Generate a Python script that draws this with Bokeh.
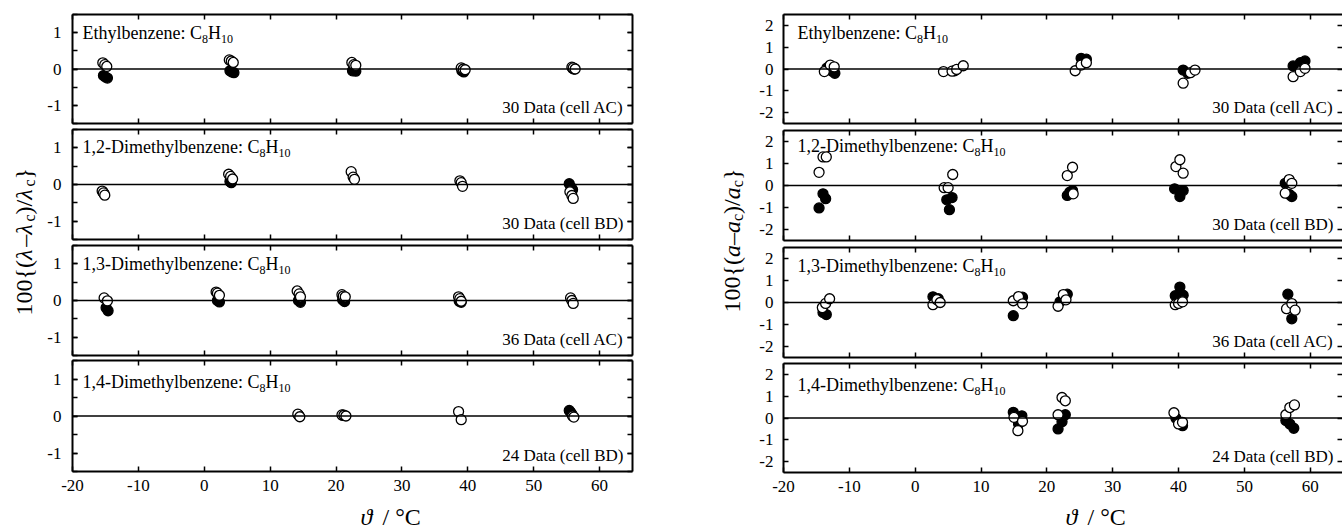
import math
from bokeh.plotting import figure
from bokeh.layouts import row, column
from bokeh.models import FixedTicker, LinearAxis, Span, Label, Range1d, CustomJSTickFormatter
from bokeh.embed import file_html
from bokeh.resources import INLINE

FONT = "Liberation Serif"

# ---------------- data ----------------
x_ticks = [-20, -10, 0, 10, 20, 30, 40, 50, 60]
lam_ticks = [-1, 0, 1]
lam_minor = [-1.5, -1, -0.5, 0, 0.5, 1, 1.5]
a_ticks = [-2, -1, 0, 1, 2]

compounds = ["Ethylbenzene", "1,2-Dimethylbenzene", "1,3-Dimethylbenzene", "1,4-Dimethylbenzene"]
notes = ["30 Data (cell AC)", "30 Data (cell BD)", "36 Data (cell AC)", "24 Data (cell BD)"]

# thermal conductivity deviations 100{(lambda - lambda_c)/lambda_c}
eb_lam_open_t = [-15.4, -15.1, -14.8, 3.8, 4.1, 4.4, 22.4, 22.7, 23.0, 39.0, 39.3, 39.6, 55.8, 56.0, 56.3]
eb_lam_open_v = [0.17, 0.12, 0.07, 0.25, 0.22, 0.18, 0.18, 0.12, 0.10, 0.03, 0.0, -0.02, 0.05, 0.03, 0.0]
eb_lam_fill_t = [-15.3, -15.0, -14.7, 3.9, 4.2, 4.5, 22.5, 22.8, 23.0, 39.1, 39.4, 39.5, 55.9, 56.1, 56.2]
eb_lam_fill_v = [-0.18, -0.22, -0.25, -0.05, -0.08, -0.10, -0.05, -0.02, -0.06, -0.05, -0.08, -0.03, 0.02, 0.0, 0.01]

o12_lam_open_t = [-15.5, -15.3, -15.1, 3.7, 4.0, 4.3, 22.3, 22.6, 22.8, 38.8, 39.0, 39.2, 55.5, 55.8, 56.0]
o12_lam_open_v = [-0.18, -0.23, -0.29, 0.28, 0.22, 0.15, 0.35, 0.20, 0.14, 0.10, 0.05, -0.05, -0.20, -0.30, -0.38]
o12_lam_fill_t = [-15.4, -15.2, 3.9, 4.1, 55.4, 55.7, 55.9]
o12_lam_fill_v = [-0.20, -0.25, 0.08, 0.05, 0.02, -0.08, -0.14]

m13_lam_open_t = [-15.2, -14.7, 1.8, 2.0, 2.3, 14.1, 14.4, 14.6, 20.9, 21.1, 21.4, 38.6, 38.8, 39.0, 55.6, 55.8, 56.0]
m13_lam_open_v = [0.07, -0.01, 0.23, 0.20, 0.14, 0.26, 0.18, 0.10, 0.16, 0.12, 0.10, 0.10, 0.05, -0.02, 0.07, 0.0, -0.08]
m13_lam_fill_t = [-14.9, -14.6, 2.0, 2.3, 14.3, 14.6, 21.0, 21.3, 38.7, 39.0]
m13_lam_fill_v = [-0.20, -0.28, 0.0, -0.04, 0.0, -0.05, 0.02, -0.03, -0.02, -0.05]

p14_lam_open_t = [14.2, 14.5, 20.9, 21.2, 21.5, 38.6, 39.0, 55.9, 56.1]
p14_lam_open_v = [0.05, -0.02, 0.03, 0.02, 0.0, 0.12, -0.10, 0.0, -0.03]
p14_lam_fill_t = [14.3, 21.0, 55.4, 55.6, 55.8]
p14_lam_fill_v = [0.03, 0.02, 0.15, 0.10, 0.05]

# thermal diffusivity deviations 100{(a - a_c)/a_c}
eb_a_open_t = [-13.8, -12.9, -12.3, 4.3, 5.6, 6.3, 7.3, 24.3, 25.2, 26.0, 40.7, 41.8, 42.5, 57.4, 58.5, 59.2]
eb_a_open_v = [-0.12, 0.18, 0.10, -0.12, -0.10, -0.02, 0.15, -0.08, 0.18, 0.29, -0.65, -0.17, -0.05, -0.35, -0.12, 0.03]
eb_a_fill_t = [-13.4, -12.6, -12.2, 6.0, 25.2, 26.0, 40.7, 41.4, 57.4, 58.5, 59.2]
eb_a_fill_v = [0.05, -0.10, -0.20, -0.08, 0.49, 0.45, -0.05, -0.20, 0.14, 0.29, 0.37]

o12_a_open_t = [-14.6, -14.0, -13.5, 4.4, 5.0, 5.7, 23.1, 23.9, 24.0, 39.6, 40.2, 40.7, 56.2, 56.8, 57.2]
o12_a_open_v = [0.60, 1.30, 1.30, -0.10, -0.10, 0.50, 0.45, 0.83, -0.38, 0.86, 1.17, 0.56, -0.35, 0.27, 0.10]
o12_a_fill_t = [-14.6, -14.0, -13.6, 4.8, 5.2, 5.6, 23.1, 23.9, 23.5, 39.4, 40.2, 40.7, 56.2, 57.2, 56.8]
o12_a_fill_v = [-1.02, -0.38, -0.60, -0.65, -1.10, -0.55, -0.45, -0.23, -0.30, -0.15, -0.50, -0.23, 0.10, -0.50, -0.40]

m13_a_open_t = [-14.1, -13.6, -13.0, 2.7, 3.3, 3.8, 14.9, 15.7, 16.3, 21.7, 22.5, 22.9, 39.5, 40.0, 40.6, 56.4, 57.2, 57.7]
m13_a_open_v = [-0.23, -0.04, 0.17, -0.10, 0.13, 0.0, 0.08, 0.27, -0.06, -0.17, 0.36, 0.12, -0.10, -0.04, 0.03, -0.28, -0.05, -0.35]
m13_a_fill_t = [-14.0, -13.5, 2.7, 3.5, 14.9, 16.3, 15.9, 22.0, 23.1, 40.2, 39.5, 40.7, 56.6, 57.2]
m13_a_fill_v = [-0.45, -0.55, 0.26, 0.17, -0.60, 0.24, 0.20, 0.03, 0.38, 0.70, 0.31, 0.33, 0.38, -0.74]

p14_a_open_t = [15.0, 15.6, 16.3, 21.7, 22.3, 22.8, 39.3, 40.0, 40.6, 56.3, 56.9, 57.6]
p14_a_open_v = [0.03, -0.58, -0.15, 0.15, 0.94, 0.79, 0.24, -0.27, -0.20, 0.15, 0.48, 0.60]
p14_a_fill_t = [14.9, 15.7, 16.2, 21.7, 22.3, 22.8, 39.6, 40.0, 40.6, 56.3, 56.9, 57.5]
p14_a_fill_v = [0.26, -0.27, 0.10, -0.50, -0.17, 0.15, -0.01, -0.17, -0.35, -0.12, -0.27, -0.47]

lam_sets = [
    (eb_lam_open_t, eb_lam_open_v, eb_lam_fill_t, eb_lam_fill_v),
    (o12_lam_open_t, o12_lam_open_v, o12_lam_fill_t, o12_lam_fill_v),
    (m13_lam_open_t, m13_lam_open_v, m13_lam_fill_t, m13_lam_fill_v),
    (p14_lam_open_t, p14_lam_open_v, p14_lam_fill_t, p14_lam_fill_v),
]
a_sets = [
    (eb_a_open_t, eb_a_open_v, eb_a_fill_t, eb_a_fill_v),
    (o12_a_open_t, o12_a_open_v, o12_a_fill_t, o12_a_fill_v),
    (m13_a_open_t, m13_a_open_v, m13_a_fill_t, m13_a_fill_v),
    (p14_a_open_t, p14_a_open_v, p14_a_fill_t, p14_a_fill_v),
]

# ---------------- text metrics (Times / Liberation Serif) ----------------
REG = {' ': 250, ',': 250, '-': 333, ':': 278, '(': 333, ')': 333, '/': 278, '{': 480, '}': 480,
       '–': 500, '°': 400, 'C': 667, 'D': 722, 'E': 611, 'H': 722, 'b': 500, 'e': 444, 'h': 500,
       'i': 278, 'l': 278, 'm': 778, 'n': 500, 't': 278, 'y': 500, 'z': 444, 'c': 444}
ITA = {'λ': 550, 'a': 500, 'ϑ': 600}
BASE_FIX = 0.34  # label baseline correction (fraction of font size)


def adv(txt, style, size):
    table = ITA if style == "italic" else REG
    return sum(table.get(ch, 500) for ch in txt) / 1000.0 * size


def style_axis(ax, ticker, labels, line=True, standoff=8):
    ax.ticker = ticker
    ax.axis_line_color = "black" if line else None
    ax.axis_line_width = 2
    ax.major_tick_in = 5
    ax.major_tick_out = 0
    ax.minor_tick_in = 5
    ax.minor_tick_out = 0
    ax.major_tick_line_width = 1.5
    ax.minor_tick_line_width = 1.5
    ax.major_tick_line_color = "black"
    ax.minor_tick_line_color = "black"
    if labels:
        ax.formatter = CustomJSTickFormatter(code="return String(tick);")
        ax.major_label_text_font = FONT
        ax.major_label_text_font_size = "17px"
        ax.major_label_text_color = "black"
        ax.major_label_standoff = standoff
    else:
        ax.major_label_text_font_size = "0px"
        ax.major_label_text_color = None
        ax.major_label_standoff = 0


def text_label(x, y, txt, size, style="normal", align="left", angle=0.0):
    return Label(x=x, y=y, x_units="screen", y_units="screen", text=txt, angle=angle,
                 text_font=FONT, text_font_size=f"{size}px", text_font_style=style,
                 text_color="black", text_baseline="alphabetic", text_align=align)


def add_formula(p, x, y_top, frame_h, name):
    pieces = [(name + ": C", 18, 0), ("8", 12, -4), ("H", 18, 0), ("10", 12, -4)]
    cx = x
    base = frame_h - y_top
    for txt, sz, dy in pieces:
        p.add_layout(text_label(cx, base + dy + BASE_FIX * sz, txt, sz))
        cx += adv(txt, "normal", sz)


def make_panel(width, height, bl, br, bt, bb, x_end, y_half, y_major, y_minor,
               x_labels, right_line, data, name, note, frame_w, frame_h,
               name_x, name_top, y_standoff):
    p = figure(width=width, height=height, x_range=Range1d(-20, x_end), y_range=Range1d(-y_half, y_half),
               output_backend="svg", toolbar_location=None,
               min_border_left=bl, min_border_right=br, min_border_top=bt, min_border_bottom=bb,
               outline_line_color=None, background_fill_color="white", border_fill_color="white")
    p.grid.visible = False
    p.add_layout(LinearAxis(), "above")
    p.add_layout(LinearAxis(), "right")
    style_axis(p.below[0], FixedTicker(ticks=x_ticks, minor_ticks=[]), x_labels, standoff=8)
    style_axis(p.above[0], FixedTicker(ticks=x_ticks, minor_ticks=[]), False)
    style_axis(p.left[0], FixedTicker(ticks=y_major, minor_ticks=y_minor), True, True, standoff=y_standoff)
    style_axis(p.right[0], FixedTicker(ticks=y_major, minor_ticks=y_minor), False, right_line)
    p.add_layout(Span(location=0, dimension="width", line_color="black", line_width=1.5))
    ot, ov, ft, fv = data
    p.scatter(ft, fv, marker="circle", size=10, fill_color="black", line_color="black", line_width=1.3)
    p.scatter(ot, ov, marker="circle", size=10, fill_color="white", line_color="black", line_width=1.3)
    add_formula(p, name_x, name_top, frame_h, name)
    p.add_layout(text_label(frame_w - 9, 10 + BASE_FIX * 17, note, 17, align="right"))
    return p


def blank_fig(width, height):
    f = figure(width=width, height=height, x_range=Range1d(0, width), y_range=Range1d(0, height),
               min_border=0, output_backend="svg", toolbar_location=None,
               x_axis_location=None, y_axis_location=None, outline_line_color=None,
               background_fill_color="white", border_fill_color="white")
    f.grid.visible = False
    return f


def xtitle_fig(width, height, x, y):
    f = blank_fig(width, height)
    yy = y + BASE_FIX * 24
    f.add_layout(text_label(x, yy, "ϑ", 24, style="italic"))
    f.add_layout(text_label(x + 22, yy, "/ °C", 24))
    return f


def ytitle_fig(width, height, pieces, base_x, start_y):
    f = blank_fig(width, height)
    y = start_y
    for txt, style, size, sub in pieces:
        bx = base_x - BASE_FIX * 24 + (5 if sub else 0)
        f.add_layout(text_label(bx, y, txt, size, style=style, angle=math.pi / 2))
        y += adv(txt, style, size)
    return f


# ---------------- layout ----------------
TOTAL_H = 530
# (b_top, frame_h, b_bottom)
left_v = [(14, 109, 3), (3, 110, 3), (3, 110, 2), (3, 111, 30)]
left_name_top = [25, 24, 25, 28]
right_v = [(14, 109, 3), (4, 110, 3), (4, 110, 3), (3, 109, 30)]
right_name_top = [25, 22, 25, 28]

left_panels = []
for i in range(4):
    bt, fh, bb = left_v[i]
    p = make_panel(600, bt + fh + bb, 32, 8, bt, bb, 65, 1.5, lam_ticks, lam_minor, i == 3,
                   True, lam_sets[i], compounds[i], notes[i], 560, fh, 10, left_name_top[i], 11)
    left_panels.append(p)
left_used = sum(a + b + c for a, b, c in left_v)
left_xt = xtitle_fig(600, TOTAL_H - left_used, 288, 5)

right_panels = []
for i in range(4):
    bt, fh, bb = right_v[i]
    p = make_panel(592, bt + fh + bb, 33, 0, bt, bb, 64.9, 2.5, a_ticks, [], i == 3,
                   False, a_sets[i], compounds[i], notes[i], 559, fh, 14, right_name_top[i], 10)
    right_panels.append(p)
right_used = sum(a + b + c for a, b, c in right_v)
right_xt = xtitle_fig(592, TOTAL_H - right_used, 282, 5)

lam_title = [("100{(", "normal", 24, False), ("λ", "italic", 24, False), ("–", "normal", 24, False),
             ("λ", "italic", 24, False), ("c", "normal", 16, True), (")/", "normal", 24, False),
             ("λ", "italic", 24, False), ("c", "normal", 16, True), ("}", "normal", 24, False)]
a_title = [("100{(", "normal", 24, False), ("a", "italic", 24, False), ("–", "normal", 24, False),
           ("a", "italic", 24, False), ("c", "normal", 16, True), (")/", "normal", 24, False),
           ("a", "italic", 24, False), ("c", "normal", 16, True), ("}", "normal", 24, False)]

left_title = ytitle_fig(40, TOTAL_H, lam_title, 32, TOTAL_H - 315)
right_title = ytitle_fig(110, TOTAL_H, a_title, 100, TOTAL_H - 312)

layout = row(left_title, column(*left_panels, left_xt), right_title, column(*right_panels, right_xt))

open("out.html", "w").write(file_html(layout, INLINE))
